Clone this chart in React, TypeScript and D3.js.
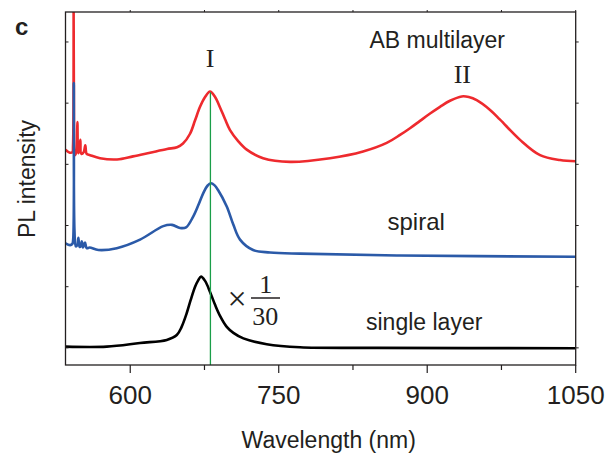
import React from "react";
import * as d3 from "d3";

// ---- data ----
const xTicksMajor = [600, 750, 900, 1050];
const xTicksMinor = [675, 825, 975];
const yTicks = [0, 1, 2, 3, 4, 5];

const redWavelength = [534.6, 539, 541.6, 542.2, 542.7, 543.2, 543.9, 545.5, 546.6, 547.5, 548.8, 549.6, 550.6, 553, 554.6, 556, 559.4, 569.5, 586.7, 602.8, 620, 637.2, 647.3, 653.3, 660.4, 665.5, 670.5, 675.6, 680.6, 685.7, 690.7, 695.7, 700.8, 709, 717.7, 734.2, 761.4, 801.8, 835.2, 859.1, 872.5, 882.6, 892.7, 902.9, 912.9, 923, 934.9, 942, 950, 963.5, 973.6, 993.8, 1014, 1034.2, 1050];
const redIntensity = [3.24, 3.19, 3.2, 3.3, 7.5, 3.55, 3.15, 3.2, 3.69, 3.18, 3.25, 3.4, 3.17, 3.2, 3.31, 3.17, 3.15, 3.1, 3.08, 3.13, 3.19, 3.25, 3.28, 3.34, 3.5, 3.72, 3.94, 4.1, 4.19, 4.1, 3.93, 3.74, 3.56, 3.38, 3.24, 3.1, 3.04, 3.1, 3.21, 3.35, 3.48, 3.59, 3.71, 3.83, 3.94, 4.04, 4.11, 4.1, 4.05, 3.89, 3.73, 3.4, 3.15, 3.07, 3.05];

const blueWavelength = [534.6, 539.2, 541.5, 542.3, 543.0, 543.7, 545, 546.5, 547.6, 548.8, 550, 551, 552.3, 554.3, 556, 559, 567.8, 586.4, 609.9, 633.4, 642.2, 650.3, 656.4, 663.7, 668.7, 673.8, 678, 681.6, 685, 688.7, 697.5, 704, 710.9, 724.1, 741.2, 771.5, 872.5, 1050];
const blueIntensity = [1.71, 1.68, 1.7, 1.76, 4.33, 1.9, 1.66, 1.68, 1.8, 1.65, 1.66, 1.74, 1.64, 1.72, 1.63, 1.64, 1.6, 1.63, 1.77, 1.99, 2.01, 1.96, 1.97, 2.15, 2.33, 2.53, 2.65, 2.69, 2.66, 2.58, 2.31, 2.02, 1.77, 1.6, 1.56, 1.54, 1.51, 1.49];

const blackWavelength = [534.6, 576.3, 609.9, 636.9, 647, 651.8, 657.1, 661, 665.5, 668.5, 671.5, 675.6, 680.6, 685.7, 690.7, 697.5, 704.2, 714.3, 737.9, 771.5, 850, 1050];
const blackIntensity = [0.02, 0.02, 0.08, 0.13, 0.21, 0.34, 0.57, 0.78, 1.0, 1.1, 1.165, 1.095, 0.915, 0.703, 0.523, 0.343, 0.245, 0.155, 0.06, 0.01, 0.0, -0.005];

const markerWavelength = 681;
const seriesLabels = ["AB multilayer", "spiral", "single layer"];
const peakLabels = ["I", "II"];
const xTitle = "Wavelength (nm)";
const yTitle = "PL intensity";

// ---- layout ----
const W = 608;
const H = 460;
const plot = { left: 65.5, right: 575.7, top: 12, bottom: 365 };
const xDomain: [number, number] = [534.6, 1050];
const yDomain: [number, number] = [-0.28, 5.49];
const sans = "'Liberation Sans', Arial, Helvetica, sans-serif";
const serif = "'Liberation Serif', 'Times New Roman', serif";
const ink = "#231f20";

export default function App() {
  const x = d3.scaleLinear().domain(xDomain).range([plot.left, plot.right]);
  const y = d3.scaleLinear().domain(yDomain).range([plot.bottom, plot.top]);
  const line = d3
    .line<[number, number]>()
    .x((d) => x(d[0]))
    .y((d) => y(d[1]))
    .curve(d3.curveCatmullRom.alpha(0.5));

  const zip = (a: number[], b: number[]) => a.map((v, i) => [v, b[i]] as [number, number]);
  const red = line(zip(redWavelength, redIntensity)) || "";
  const blue = line(zip(blueWavelength, blueIntensity)) || "";
  const black = line(zip(blackWavelength, blackIntensity)) || "";

  return (
    <svg width={W} height={H} style={{ position: "absolute", left: 0, top: 0, background: "#fff" }}>
      <defs>
        <clipPath id="plotclip">
          <rect x={plot.left} y={plot.top} width={plot.right - plot.left} height={plot.bottom - plot.top} />
        </clipPath>
      </defs>
      <rect width={W} height={H} fill="#fff" />

      <g clipPath="url(#plotclip)" fill="none" strokeWidth={2.6} strokeLinejoin="round">
        <path d={red} stroke="#ee2a2e" />
        <path d={blue} stroke="#2b5aa8" />
        <path d={black} stroke="#000" />
        <line
          x1={x(markerWavelength)}
          x2={x(markerWavelength)}
          y1={y(4.18)}
          y2={plot.bottom}
          stroke="#1a9e48"
          strokeWidth={1.3}
        />
      </g>

      {/* frame */}
      <rect
        x={plot.left}
        y={plot.top}
        width={plot.right - plot.left}
        height={plot.bottom - plot.top}
        fill="none"
        stroke={ink}
        strokeWidth={1.3}
      />

      {/* bottom ticks & labels */}
      {xTicksMajor.map((t) => (
        <g key={"bx" + t}>
          <line x1={x(t)} x2={x(t)} y1={plot.bottom} y2={plot.bottom + 8} stroke={ink} strokeWidth={1.2} />
          <line x1={x(t)} x2={x(t)} y1={plot.top} y2={plot.top - 2} stroke={ink} strokeWidth={1} />
          <text x={x(t)} y={403.5} textAnchor="middle" fontFamily={sans} fontSize={26} fill={ink}>
            {t}
          </text>
        </g>
      ))}
      {xTicksMinor.map((t) => (
        <g key={"mx" + t}>
          <line x1={x(t)} x2={x(t)} y1={plot.bottom} y2={plot.bottom + 5} stroke={ink} strokeWidth={1.2} />
          <line x1={x(t)} x2={x(t)} y1={plot.top} y2={plot.top - 2} stroke={ink} strokeWidth={1} />
        </g>
      ))}
      {yTicks.map((t) => (
        <g key={"y" + t}>
          <line x1={plot.left} x2={plot.left + 3} y1={y(t)} y2={y(t)} stroke={ink} strokeWidth={1} />
          <line x1={plot.right} x2={plot.right + 3} y1={y(t)} y2={y(t)} stroke={ink} strokeWidth={1} />
        </g>
      ))}

      {/* titles */}
      <text x={328.7} y={448} textAnchor="middle" fontFamily={sans} fontSize={23} fill={ink}>
        {xTitle}
      </text>
      <text
        transform="translate(34.5,179) rotate(-90)"
        textAnchor="middle"
        fontFamily={sans}
        fontSize={23}
        fill={ink}
      >
        {yTitle}
      </text>
      <text x={15} y={35} fontFamily={sans} fontWeight="bold" fontSize={24} fill={ink}>
        c
      </text>

      {/* series labels */}
      <text x={369.5} y={47.5} fontFamily={sans} fontSize={23} fill={ink}>
        {seriesLabels[0]}
      </text>
      <text x={387.5} y={230} fontFamily={sans} fontSize={24} fill={ink}>
        {seriesLabels[1]}
      </text>
      <text x={366} y={330} fontFamily={sans} fontSize={23} fill={ink}>
        {seriesLabels[2]}
      </text>

      {/* peak labels */}
      <text x={210} y={67.3} textAnchor="middle" fontFamily={serif} fontSize={26} fill={ink}>
        {peakLabels[0]}
      </text>
      <text x={462.3} y={83.3} textAnchor="middle" fontFamily={serif} fontSize={26} fill={ink}>
        {peakLabels[1]}
      </text>

      {/* scale factor ×1/30 */}
      <text x={237} y={310} textAnchor="middle" fontFamily={serif} fontSize={34} fill={ink}>
        ×
      </text>
      <text x={265.8} y={292.7} textAnchor="middle" fontFamily={serif} fontSize={26} fill={ink}>
        1
      </text>
      <line x1={251} x2={280} y1={298} y2={298} stroke={ink} strokeWidth={1.5} />
      <text x={265.3} y={324.5} textAnchor="middle" fontFamily={serif} fontSize={26} fill={ink}>
        30
      </text>
    </svg>
  );
}
